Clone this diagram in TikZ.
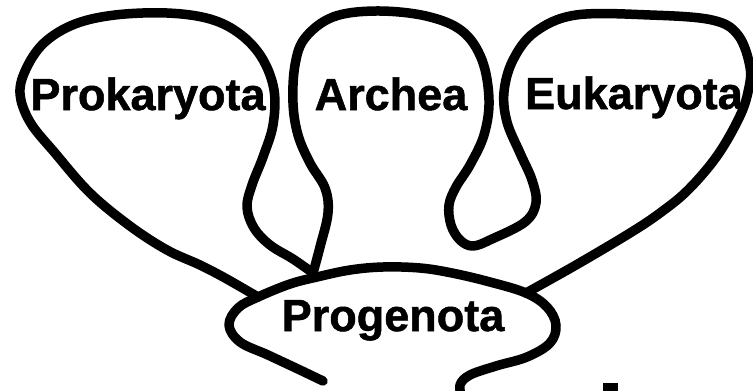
\documentclass[tikz,border=0pt]{standalone}
\usepackage{fontspec}
\setmainfont{Liberation Sans}
\newfontfamily\taxonfont{Liberation Sans}[BoldFeatures={FakeBold=1.2}]
\begin{document}
\begin{tikzpicture}[
  x=1pt, y=-1pt,
  pen/.style={line width=9.5pt, line cap=round, line join=round},
  taxon/.style={font=\taxonfont\fontsize{45}{54}\selectfont\bfseries, anchor=base, inner sep=0pt}
]
\clip (0,0) rectangle (753,391);

% Prokaryota loop, from the left junction to the cusp
\draw[pen] plot[smooth, tension=0.6] coordinates {
  (258,297) (225,278) (200,265) (167,250) (130,226) (90,193) (55,153) (30,122)
  (20,93) (27,67) (45,42) (75,24) (115,15) (167,13) (210,19) (240,34) (262,58)
  (274,90) (273,125) (263,157) (252,185) (247,207) (254,228) (270,245)
  (293,259) (313,273)};

% Archea loop and Eukaryota loop, from the cusp to the right junction
\draw[pen] plot[smooth, tension=0.6] coordinates {
  (313,273) (320,247) (328,213) (325,188) (310,163) (298,135) (293,103)
  (295,65) (305,38) (333,17) (376,11) (426,16) (462,31) (482,60) (489,100)
  (484,135) (470,165) (456,187) (449,205) (451,225) (460,240) (473,246)
  (492,239) (525,222) (536,203) (532,180) (520,153) (507,122) (504,92)
  (513,60) (535,32) (576,15) (650,15) (712,20) (738,35) (750,67) (748,92)
  (739,118) (717,156) (688,190) (660,213) (630,233) (576,265) (526,293)};

% Progenota outline with its two tails
\draw[pen] plot[smooth, tension=0.6] coordinates {
  (323,381) (300,370) (268,355) (240,342) (229,325) (238,308) (258,297)
  (290,284) (317,277) (350,270) (383,267) (420,268) (452,273) (490,282)
  (526,293) (547,307) (556,325) (550,343) (527,357) (496,366) (470,375)
  (460,385) (462,398)};

% cut-off mark at the bottom edge
\fill (603,383) rectangle (618,393);

% Labels
\node[taxon] (prokaryota) at (148,110) {Prokaryota};
\node[taxon] (archea) at (391,110) {Archea};
\node[taxon] (eukaryota) at (634,109) {Eukaryota};
\node[taxon] (progenota) at (393,331) {Progenota};

\end{tikzpicture}
\end{document}
